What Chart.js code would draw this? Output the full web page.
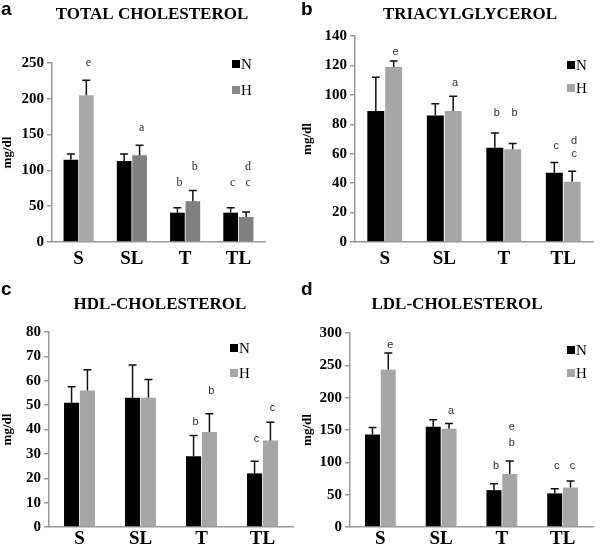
<!DOCTYPE html>
<html>
<head>
<meta charset="utf-8">
<script src="https://cdn.jsdelivr.net/npm/chart.js@4.4.0/dist/chart.umd.min.js"></script>
<style>
  body { margin: 0; background: #fff; }
  .wrap { position: relative; width: 600px; height: 547px; }
  .panel { position: absolute; }
</style>
</head>
<body>
<div class="wrap">
  <div class="panel" style="left:0;top:0"><canvas id="chartA" width="300" height="280"></canvas></div>
  <div class="panel" style="left:300px;top:0"><canvas id="chartB" width="300" height="280"></canvas></div>
  <div class="panel" style="left:0;top:280px"><canvas id="chartC" width="300" height="267"></canvas></div>
  <div class="panel" style="left:300px;top:280px"><canvas id="chartD" width="300" height="267"></canvas></div>
</div>
<script>
// groups on the x axis
var groups = ['S', 'SL', 'T', 'TL'];

// a - total cholesterol (mean, sd)
var tcN = [115, 113, 41, 41];
var tcNsd = [8, 10, 7, 7];
var tcH = [205, 121, 57, 35];
var tcHsd = [21, 14, 15, 7];
var tcLetters = [['H', 0, 'e', 250], ['H', 1, 'a', 160], ['N', 2, 'b', 82], ['H', 2, 'b', 105],
                 ['N', 3, 'c', 82], ['H', 3, 'c', 82], ['H', 3, 'd', 105]];

// b - triacylglycerol
var tgN = [89, 86, 64, 47];
var tgNsd = [23, 8, 10, 7];
var tgH = [119, 89, 63, 41];
var tgHsd = [4, 10, 4, 7];
var tgLetters = [['H', 0, 'e', 129], ['H', 1, 'a', 108], ['N', 2, 'b', 88], ['H', 2, 'b', 88],
                 ['N', 3, 'c', 65], ['H', 3, 'c', 60], ['H', 3, 'd', 69]];

// c - HDL cholesterol
var hdlN = [51, 53, 29, 22];
var hdlNsd = [6.5, 13.5, 8.5, 5];
var hdlH = [56, 53, 39, 35.5];
var hdlHsd = [8.5, 7.5, 7.5, 7.5];
var hdlLetters = [['N', 2, 'b', 43], ['H', 2, 'b', 56], ['N', 3, 'c', 36], ['H', 3, 'c', 49]];

// d - LDL cholesterol
var ldlN = [143, 155, 57, 52];
var ldlNsd = [11, 11, 10, 7];
var ldlH = [243, 152, 82, 61];
var ldlHsd = [26, 8, 20, 10];
var ldlLetters = [['H', 0, 'e', 281], ['H', 1, 'a', 179], ['N', 2, 'b', 94], ['H', 2, 'e', 155],
                  ['H', 2, 'b', 130], ['N', 3, 'c', 94], ['H', 3, 'c', 94]];

var serif = '"Liberation Serif", "Times New Roman", serif';

// error bars, letters, legend, panel titles
var decoPlugin = {
  id: 'deco',
  afterDatasetsDraw: function(chart) {
    var o = chart.options.plugins.deco;
    var ctx = chart.ctx;
    var y = chart.scales.y;
    ctx.save();
    chart.data.datasets.forEach(function(ds, di) {
      chart.getDatasetMeta(di).data.forEach(function(bar, i) {
        var top = y.getPixelForValue(ds.data[i] + ds.sd[i]);
        ctx.strokeStyle = '#111';
        ctx.lineWidth = 1.5;
        ctx.beginPath();
        ctx.moveTo(bar.x, bar.y);
        ctx.lineTo(bar.x, top);
        ctx.moveTo(bar.x - 4, top);
        ctx.lineTo(bar.x + 4, top);
        ctx.stroke();
      });
    });
    ctx.fillStyle = '#333';
    ctx.font = o.letterFont;
    ctx.textAlign = 'center';
    ctx.textBaseline = 'middle';
    o.letters.forEach(function(l) {
      var bar = chart.getDatasetMeta(l[0] === 'N' ? 0 : 1).data[l[1]];
      ctx.fillText(l[2], bar.x + 2, y.getPixelForValue(l[3]));
    });
    ctx.restore();
  },
  afterDraw: function(chart) {
    var o = chart.options.plugins.deco;
    var ctx = chart.ctx;
    ctx.save();
    ctx.fillStyle = '#000';
    ctx.textBaseline = 'middle';
    ctx.font = 'bold 19px "Liberation Sans", Arial, sans-serif';
    ctx.textAlign = 'left';
    ctx.fillText(o.tag, 1, 10);
    ctx.font = 'bold 17px ' + serif;
    ctx.textAlign = 'center';
    ctx.fillText(o.title, o.titleX, o.titleY);
    ctx.font = '15px ' + serif;
    ctx.textAlign = 'left';
    o.legendNames.forEach(function(name, i) {
      var ly = o.legendY[i];
      ctx.fillStyle = o.legendColors[i];
      ctx.fillRect(o.legendX, ly - 4, 8, 8);
      ctx.fillStyle = '#000';
      ctx.fillText(name, o.legendX + 9, ly + 1);
    });
    ctx.restore();
  }
};

function makePanel(id, p) {
  var W = 300, H = id === 'chartA' || id === 'chartB' ? 280 : 267;
  return new Chart(document.getElementById(id), {
    type: 'bar',
    data: {
      labels: groups,
      datasets: [
        { label: 'N', data: p.n, sd: p.nsd, backgroundColor: '#000',
          categoryPercentage: p.cat, barPercentage: 0.95 },
        { label: 'H', data: p.h, sd: p.hsd, backgroundColor: p.hColor,
          categoryPercentage: p.cat, barPercentage: 0.95 }
      ]
    },
    options: {
      responsive: false,
      animation: false,
      layout: { padding: { left: 0, top: p.top, right: W - p.right, bottom: 0 } },
      plugins: {
        legend: { display: false },
        tooltip: { enabled: false },
        deco: {
          tag: p.tag, title: p.title, titleX: p.titleX, titleY: p.titleY,
          letters: p.letters, letterFont: p.letterFont,
          legendNames: ['N', 'H'], legendColors: ['#000', p.legendH],
          legendX: p.legendX, legendY: p.legendY
        }
      },
      scales: {
        x: {
          grid: { display: false, drawTicks: false },
          border: { color: '#9a9a9a', width: 1.5 },
          ticks: { color: '#000', padding: p.xPad, font: { family: serif, size: 19, weight: 'bold' } },
          afterFit: function(s) { s.height = H - p.bottom; }
        },
        y: {
          min: 0, max: p.max,
          ticks: { stepSize: p.step, color: '#000', padding: 3,
                   font: { family: serif, size: 15, weight: 'bold' } },
          grid: { drawOnChartArea: false, tickLength: 5, color: '#9a9a9a', lineWidth: 1.5 },
          border: { color: '#9a9a9a', width: 1.5 },
          title: { display: true, text: 'mg/dl', color: '#000', padding: 0,
                   font: { family: serif, size: 13, weight: 'bold' } },
          afterFit: function(s) { s.width = p.left; }
        }
      }
    },
    plugins: [decoPlugin]
  });
}

makePanel('chartA', {
  n: tcN, nsd: tcNsd, h: tcH, hsd: tcHsd, letters: tcLetters,
  hColor: ['#aaaaaa', '#808080', '#808080', '#808080'], legendH: '#888',
  max: 250, step: 50, tag: 'a', title: 'TOTAL CHOLESTEROL', titleX: 152, titleY: 15,
  left: 52, right: 265, top: 63, bottom: 242, cat: 0.58, xPad: 6,
  legendX: 232, legendY: [64, 90], letterFont: '12px ' + serif
});
makePanel('chartB', {
  n: tgN, nsd: tgNsd, h: tgH, hsd: tgHsd, letters: tgLetters,
  hColor: '#a6a6a6', legendH: '#a6a6a6',
  max: 140, step: 20, tag: 'b', title: 'TRIACYLGLYCEROL', titleX: 170, titleY: 15,
  left: 55, right: 293, top: 36, bottom: 242, cat: 0.6, xPad: 6,
  legendX: 267, legendY: [65, 88], letterFont: '11px "Liberation Sans", Arial, sans-serif'
});
makePanel('chartC', {
  n: hdlN, nsd: hdlNsd, h: hdlH, hsd: hdlHsd, letters: hdlLetters,
  hColor: '#a6a6a6', legendH: '#a6a6a6',
  max: 80, step: 10, tag: 'c', title: 'HDL-CHOLESTEROL', titleX: 160, titleY: 25,
  left: 49, right: 293, top: 52, bottom: 247, cat: 0.52, xPad: 1,
  legendX: 230, legendY: [68, 93], letterFont: '11px "Liberation Sans", Arial, sans-serif'
});
makePanel('chartD', {
  n: ldlN, nsd: ldlNsd, h: ldlH, hsd: ldlHsd, letters: ldlLetters,
  hColor: '#a6a6a6', legendH: '#a6a6a6',
  max: 300, step: 50, tag: 'd', title: 'LDL-CHOLESTEROL', titleX: 157, titleY: 25,
  left: 50, right: 293, top: 53, bottom: 247, cat: 0.52, xPad: 1,
  legendX: 267, legendY: [70, 93], letterFont: '11px "Liberation Sans", Arial, sans-serif'
});
</script>
</body>
</html>
